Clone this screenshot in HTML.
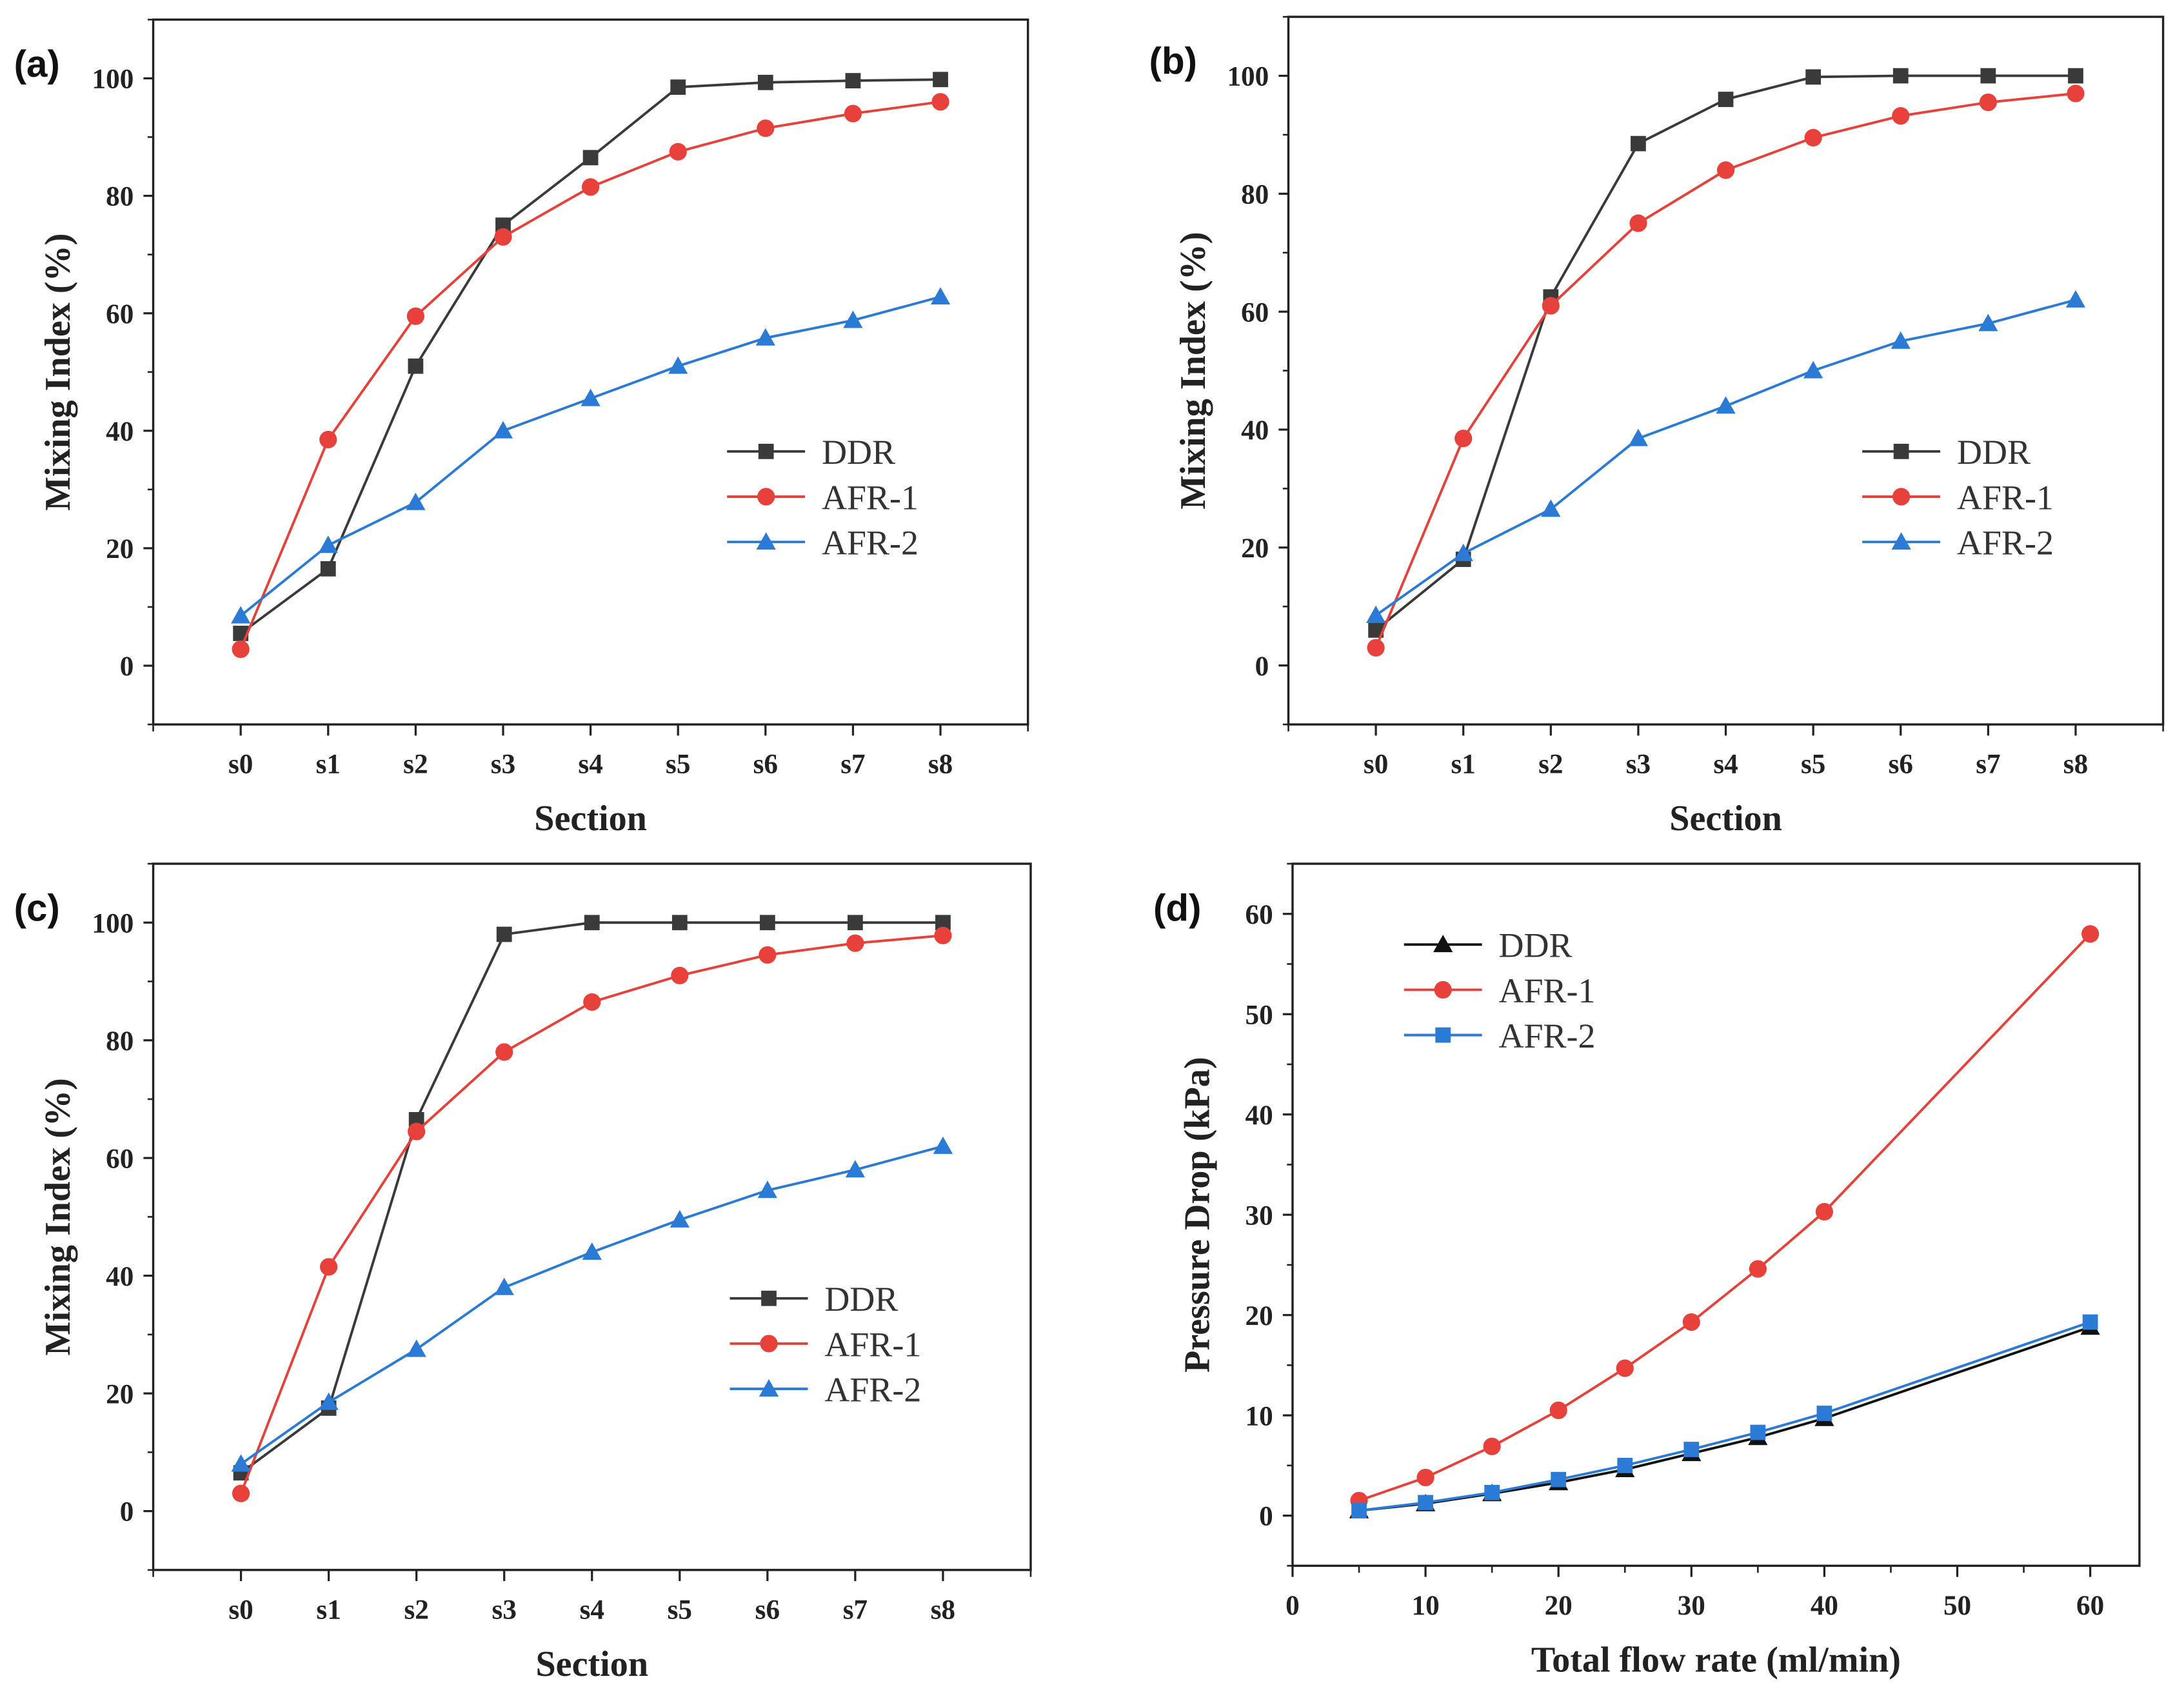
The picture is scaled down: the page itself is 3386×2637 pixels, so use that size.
<!DOCTYPE html>
<html><head><meta charset="utf-8"><style>
html,body{margin:0;padding:0;background:#fff;}
svg{display:block;}
.tk{font-family:"Liberation Serif",serif;font-weight:bold;font-size:20px;fill:#222;}
.tt{font-family:"Liberation Serif",serif;font-weight:bold;font-size:26px;fill:#222;}
.lg{font-family:"Liberation Serif",serif;font-size:25px;fill:#333;}
.pl{font-family:"Liberation Sans",sans-serif;font-weight:bold;font-size:27px;fill:#111;}
</style></head><body>
<svg id="fig" width="3386" height="2637" viewBox="0 0 1568 1221" xmlns="http://www.w3.org/2000/svg"></svg>
<script>
const sections=["s0","s1","s2","s3","s4","s5","s6","s7","s8"];
const aDDR=[5.5,16.5,51,75,86.5,98.5,99.3,99.6,99.8];
const aAFR1=[2.8,38.5,59.5,73,81.5,87.5,91.5,94,96];
const aAFR2=[8.5,20.5,27.8,40,45.5,51,55.8,58.8,62.8];
const bDDR=[6,18,62.5,88.5,96,99.8,100,100,100];
const bAFR1=[3,38.5,61,75,84,89.5,93.2,95.5,97];
const bAFR2=[8.5,19,26.5,38.5,44,50,55,58,62];
const cDDR=[6.5,17.5,66.5,98,100,100,100,100,100];
const cAFR1=[3,41.5,64.5,78,86.5,91,94.5,96.5,97.8];
const cAFR2=[8,18.5,27.5,38,44,49.5,54.5,58,62];
const dFlow=[5,10,15,20,25,30,35,40,60];
const dDDR=[0.5,1.2,2.2,3.3,4.6,6.2,7.8,9.7,18.8];
const dAFR1=[1.5,3.8,6.9,10.5,14.7,19.3,24.6,30.3,58];
const dAFR2=[0.5,1.3,2.3,3.6,5,6.6,8.3,10.2,19.3];
const mixTicks=[0,20,40,60,80,100];
const pdTicks=[0,10,20,30,40,50,60];
const flowTicks=[0,10,20,30,40,50,60];

const NS="http://www.w3.org/2000/svg";
const svg=document.getElementById('fig');
function mk(tag,attrs,parent,text){const e=document.createElementNS(NS,tag);for(const k in attrs)e.setAttribute(k,attrs[k]);if(text!==undefined)e.textContent=text;(parent||svg).appendChild(e);return e;}
const BLK="#3a3a3a",RED="#e8413c",BLUE="#2b7bd6";

function marker(g,type,x,y,color,r){
  let m;
  if(type==='sq') m=mk('rect',{x:x-r,y:y-r,width:2*r,height:2*r,fill:color},g);
  else if(type==='ci') m=mk('circle',{cx:x,cy:y,r:r+0.8,fill:color},g);
  else m=mk('polygon',{points:`${x},${y-r-1.5} ${x-r-1.5},${y+r} ${x+r+1.5},${y+r}`,fill:color},g);
  
  
}

function panel(o){
  const g=mk('g',{});
  
  
  const sx=v=>o.L+(v-o.x0)/(o.x1-o.x0)*(o.R-o.L);
  const sy=v=>o.B-(v-o.y0)/(o.y1-o.y0)*(o.B-o.T);
  const fr=mk('rect',{x:o.L,y:o.T,width:o.R-o.L,height:o.B-o.T,fill:'none',stroke:'#222','stroke-width':1.6},g);
  
  o.yt.forEach(v=>{mk('line',{x1:o.L-7,x2:o.L,y1:sy(v),y2:sy(v),stroke:'#222','stroke-width':1.5},g);
    const t=mk('text',{x:o.L-14,y:sy(v)+7,'text-anchor':'end',class:'tk'},g,v);
    });
  for(let v=o.y0;v<=o.y1;v+=o.ym){if(o.yt.indexOf(v)<0) mk('line',{x1:o.L-4,x2:o.L,y1:sy(v),y2:sy(v),stroke:'#222','stroke-width':1.2},g);}
  o.xt.forEach((v,i)=>{mk('line',{x1:sx(v),x2:sx(v),y1:o.B,y2:o.B+8,stroke:'#222','stroke-width':1.5},g);
    const t=mk('text',{x:sx(v),y:o.B+35,'text-anchor':'middle',class:'tk'},g,o.xl[i]);
    });
  (o.xminor||[]).forEach(v=>mk('line',{x1:sx(v),x2:sx(v),y1:o.B,y2:o.B+5,stroke:'#222','stroke-width':1.2},g));
  const xt=mk('text',{x:(o.L+o.R)/2,y:o.B+76,'text-anchor':'middle',class:'tt'},g,o.xtitle);
  
  const cy=(o.T+o.B)/2;
  const yt=mk('text',{x:o.L-60,y:cy,'text-anchor':'middle',class:'tt',transform:`rotate(-90 ${o.L-60} ${cy})`},g,o.ytitle);
  
  const pl=mk('text',{x:o.L-100,y:o.T+41,class:'pl'},g,o.label);
  
  o.series.forEach(s=>{
    const sg=mk('g',{},g);
    
    
    const pts=s.v.map((v,i)=>sx(o.xs[i])+','+sy(v)).join(' ');
    const ln=mk('polyline',{points:pts,fill:'none',stroke:s.c,'stroke-width':1.8},sg);
    
    s.v.forEach((v,i)=>marker(sg,s.m,sx(o.xs[i]),sy(v),s.c,5.5));
  });
  const lg=mk('g',{},g);
  
  o.series.forEach((s,i)=>{const y=o.lgy+i*32.5;
    const e=mk('g',{},lg);
    
    mk('line',{x1:o.lgx,x2:o.lgx+56,y1:y,y2:y,stroke:s.c,'stroke-width':1.8},e);
    marker(e,s.m,o.lgx+28,y,s.c,5.5);
    mk('text',{x:o.lgx+68,y:y+9,class:'lg'},e,s.n);});
}
const idx=sections.map((_,i)=>i);
function mixPanel(name,label,L,R,T,B,d1,d2,d3,lgx,lgy){
  panel({name,label,L,R,T,B,x0:-1,x1:9,y0:-10,y1:110,yt:mixTicks,ym:10,xt:idx,xl:sections,xminor:[-1,9],xs:idx,
    xtitle:'Section',ytitle:'Mixing Index (%)',lgx,lgy,
    series:[{n:'DDR',v:d1,c:BLK,m:'sq'},{n:'AFR-1',v:d2,c:RED,m:'ci'},{n:'AFR-2',v:d3,c:BLUE,m:'tr'}]});
}
mixPanel('panel-a','(a)',110,738,14,520,aDDR,aAFR1,aAFR2,522,324);
mixPanel('panel-b','(b)',925,1553,12,520,bDDR,bAFR1,bAFR2,1337,324);
mixPanel('panel-c','(c)',110,740,620,1127,cDDR,cAFR1,cAFR2,524,932);
panel({name:'panel-d',label:'(d)',L:928,R:1536,T:620,B:1124,x0:0,x1:63.7,y0:-5,y1:65,yt:pdTicks,ym:5,
  xt:flowTicks,xl:flowTicks,xminor:[5,15,25,35,45,55],xs:dFlow,xtitle:'Total flow rate (ml/min)',ytitle:'Pressure Drop (kPa)',
  lgx:1008,lgy:678,
  series:[{n:'DDR',v:dDDR,c:'#111',m:'tr'},{n:'AFR-1',v:dAFR1,c:RED,m:'ci'},{n:'AFR-2',v:dAFR2,c:BLUE,m:'sq'}]});
</script>
</body></html>
